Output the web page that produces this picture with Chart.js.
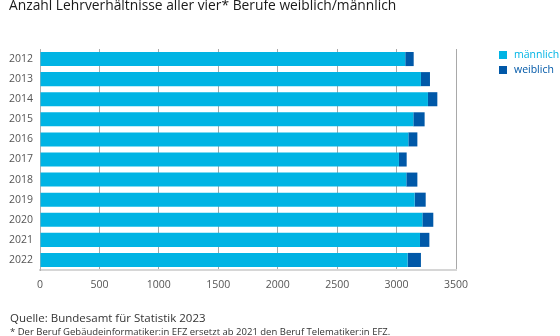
<!DOCTYPE html>
<html>
<head>
<meta charset="utf-8">
<script src="https://cdn.jsdelivr.net/npm/chart.js@4/dist/chart.umd.min.js"></script>
<style>
  html, body { margin: 0; padding: 0; background: #fff; }
  #wrap { position: relative; width: 560px; height: 336px; overflow: hidden; font-family: "Open Sans", sans-serif; }
  #c { position: absolute; left: 0; top: 0; }
  .t { position: absolute; white-space: nowrap; color: #222; }
  #title { left: 9px; top: -5px; font-size: 13.8px; color: #1a1a1a; }
  #src { left: 10px; top: 310px; font-size: 11.5px; color: #333; }
  #note { left: 10px; top: 325px; font-size: 9.5px; color: #333; }
</style>
</head>
<body>
<div id="wrap">
  <canvas id="c" width="560" height="336"></canvas>
  <div class="t" id="title">Anzahl Lehrverhältnisse aller vier* Berufe weiblich/männlich</div>
  <div class="t" id="src">Quelle: Bundesamt für Statistik 2023</div>
  <div class="t" id="note">* Der Beruf Gebäudeinformatiker:in EFZ ersetzt ab 2021 den Beruf Telematiker:in EFZ.</div>
</div>
<script>
const years = ["2012","2013","2014","2015","2016","2017","2018","2019","2020","2021","2022"];
const maennlich = [3073, 3205, 3264, 3141, 3099, 3020, 3082, 3152, 3217, 3197, 3093];
const weiblich  = [71, 76, 79, 95, 76, 65, 93, 93, 92, 79, 112];
const xTicks = [0, 500, 1000, 1500, 2000, 2500, 3000, 3500];

const colM = "#00b4e4";
const colW = "#0058a8";

const legendPlugin = {
  id: "sideLegend",
  afterDraw(chart) {
    const ctx = chart.ctx;
    const a = chart.chartArea;
    ctx.save();
    ctx.font = "10.5px 'Open Sans', sans-serif";
    ctx.textBaseline = "middle";
    chart.data.datasets.forEach((ds, i) => {
      const x = a.right + 43;
      const y = a.top + 2 + i * 15;
      ctx.fillStyle = ds.backgroundColor;
      ctx.fillRect(x, y, 8, 8);
      ctx.fillText(ds.label, x + 15, y + 4);
    });
    ctx.restore();
  }
};

new Chart(document.getElementById("c"), {
  type: "bar",
  data: {
    labels: years,
    datasets: [
      { label: "männlich", data: maennlich, backgroundColor: colM },
      { label: "weiblich", data: weiblich, backgroundColor: colW }
    ]
  },
  options: {
    indexAxis: "y",
    responsive: false,
    animation: false,
    layout: { padding: { left: 0, top: 49, right: 104, bottom: 40 } },
    datasets: { bar: { barPercentage: 0.7, categoryPercentage: 1.0 } },
    plugins: { legend: { display: false }, tooltip: { enabled: false } },
    scales: {
      x: {
        stacked: true,
        min: 0, max: 3500,
        afterBuildTicks(s) { s.ticks = xTicks.map(v => ({ value: v })); },
        afterFit(s) { s.height = 26; },
        grid: { color: "#a9a9a9", lineWidth: 1, drawTicks: false },
        border: { display: true, color: "#d6d6d6", width: 2 },
        ticks: {
          padding: 9, color: "#555",
          font: { family: "'Open Sans', sans-serif", size: 10.5 },
          callback: v => String(v)
        }
      },
      y: {
        stacked: true,
        afterFit(s) { s.width = 40; },
        grid: { display: false, drawTicks: false },
        border: { display: true, color: "#b0b0b0", width: 1 },
        ticks: { padding: 7, color: "#555", font: { family: "'Open Sans', sans-serif", size: 10.5 } }
      }
    }
  },
  plugins: [legendPlugin]
});
</script>
</body>
</html>
